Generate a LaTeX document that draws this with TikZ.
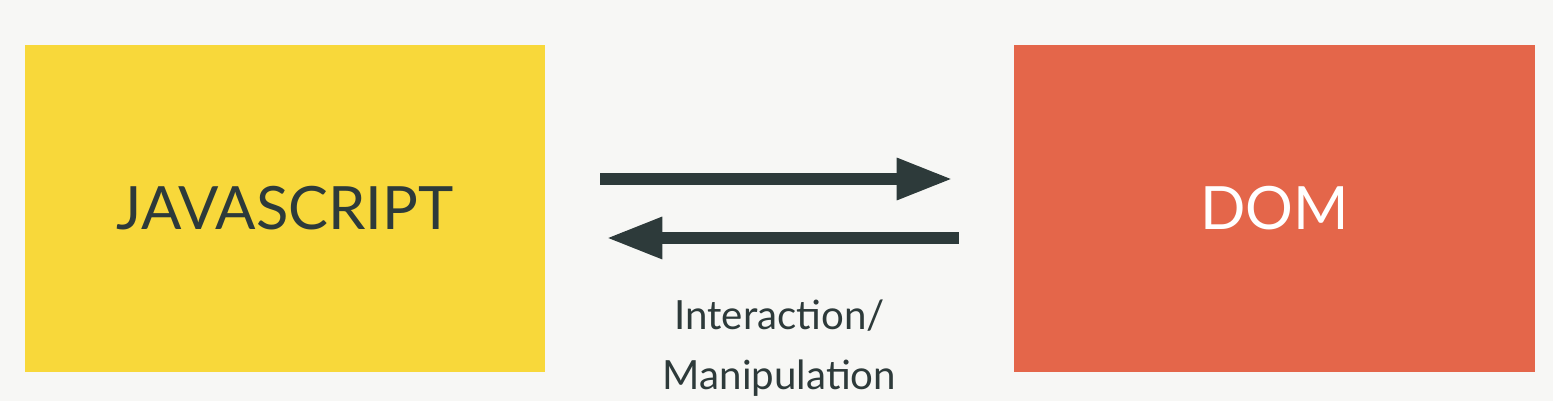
\documentclass[tikz,border=0pt]{standalone}
\usepackage{fontspec}
\setmainfont{Lato}
\usepackage{xcolor}
\usepackage{tikz}
\usetikzlibrary{arrows.meta, positioning, calc}
\definecolor{bggray}{RGB}{247,247,245}
\definecolor{jsyellow}{RGB}{248,216,58}
\definecolor{domred}{RGB}{228,102,74}
\definecolor{mydark}{RGB}{45,58,58}
\tikzset{
  jsbox/.style={rectangle, fill=jsyellow, minimum width=10.4cm,
    minimum height=6.54cm, inner sep=0pt,
    font=\fontsize{34}{40}\selectfont, text=mydark},
  dombox/.style={rectangle, fill=domred, minimum width=10.42cm,
    minimum height=6.54cm, inner sep=0pt,
    font=\fontsize{34}{40}\selectfont, text=white},
  flowarrow/.style={-{Triangle[length=1.12cm, width=0.78cm]},
    line width=0.24cm, color=mydark,
    shorten <=1.1cm, shorten >=1.22cm}
}

\begin{document}
\begin{tikzpicture}[x=0.02cm, y=-0.02cm]
  % Background
  \fill[bggray] (0,0) rectangle (1553,401);
  \useasboundingbox (0,0) rectangle (1553,401);

  % Boxes
  \node[jsbox] (js) at (285,208.5) {JAVASCRIPT};
  \node[dombox] (dom) at (1274.5,208.5) {DOM};

  % Arrows
  \draw[flowarrow] ([yshift=0.59cm]js.east) -- ([yshift=0.59cm]dom.west);
  \draw[flowarrow] ([yshift=-0.59cm]dom.west) -- ([yshift=-0.59cm]js.east);

  % Label
  \node[anchor=north, inner sep=0pt, align=center, text=mydark,
    font=\fontsize{22.9}{34}\selectfont]
    (lbl) at ($(js.east)!0.5!(dom.west) + (0,-1.82cm)$) {Interaction/\\Manipulation};
\end{tikzpicture}
\end{document}
